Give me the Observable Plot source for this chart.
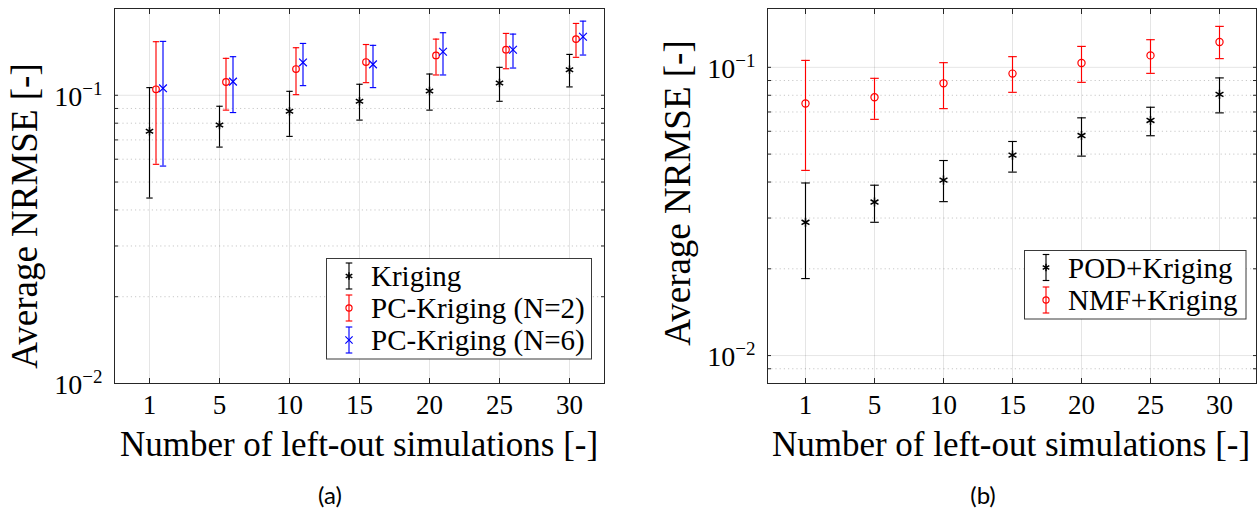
<!DOCTYPE html>
<html>
<head>
<meta charset="utf-8">
<script src="https://cdn.jsdelivr.net/npm/d3@7"></script>
<script src="https://cdn.jsdelivr.net/npm/@observablehq/plot@0.6"></script>
<style>
  html, body { margin: 0; padding: 0; background: #fff; }
  #root { position: relative; width: 1258px; height: 521px; background: #fff; overflow: hidden; }
  .panel { position: absolute; top: 0; }
  #overlay { position: absolute; left: 0; top: 0; pointer-events: none; }
</style>
</head>
<body>
<div id="root">
  <div id="pa" class="panel" style="left:0"></div>
  <div id="pb" class="panel" style="left:640px"></div>
  <svg id="overlay" width="1258" height="521"></svg>
</div>
<script>
// ---------- data ----------
const categories = ["1", "5", "10", "15", "20", "25", "30"];

// panel (a)
const krigingMean = [0.0750, 0.0789, 0.0880, 0.0953, 0.1035, 0.1103, 0.1227];
const krigingLow  = [0.0440, 0.0661, 0.0720, 0.0820, 0.0888, 0.0953, 0.1069];
const krigingHigh = [0.1063, 0.0916, 0.1032, 0.1092, 0.1185, 0.1250, 0.1386];

const pcN2Mean = [0.1049, 0.1112, 0.1233, 0.1304, 0.1375, 0.1439, 0.1566];
const pcN2Low  = [0.0576, 0.0888, 0.1005, 0.1106, 0.1176, 0.1236, 0.1354];
const pcN2High = [0.1534, 0.1343, 0.1462, 0.1500, 0.1566, 0.1639, 0.1775];

const pcN6Mean = [0.1057, 0.1115, 0.1300, 0.1280, 0.1416, 0.1439, 0.1596];
const pcN6Low  = [0.0568, 0.0871, 0.1080, 0.1063, 0.1176, 0.1243, 0.1379];
const pcN6High = [0.1538, 0.1361, 0.1513, 0.1490, 0.1648, 0.1630, 0.1808];

// panel (b)
const podMean = [0.0290, 0.0341, 0.0406, 0.0496, 0.0580, 0.0654, 0.0806];
const podLow  = [0.0185, 0.0290, 0.0342, 0.0433, 0.0492, 0.0579, 0.0695];
const podHigh = [0.0397, 0.0390, 0.0475, 0.0553, 0.0668, 0.0727, 0.0919];

const nmfMean = [0.0749, 0.0787, 0.0880, 0.0951, 0.1035, 0.1100, 0.1225];
const nmfLow  = [0.0439, 0.0660, 0.0719, 0.0819, 0.0887, 0.0953, 0.1072];
const nmfHigh = [0.1057, 0.0916, 0.1038, 0.1089, 0.1182, 0.1247, 0.1387];

const legendA = ["Kriging", "PC-Kriging (N=2)", "PC-Kriging (N=6)"];
const legendB = ["POD+Kriging", "NMF+Kriging"];
const xLabel = "Number of left-out simulations [-]";
const yLabel = "Average NRMSE [-]";
const yDomainA = [0.01, 0.2];
const yDomainB = [0.008, 0.16];
const majorTicks = [0.01, 0.1];
const minorTicksA = [0.02, 0.03, 0.04, 0.05, 0.06, 0.07, 0.08, 0.09];
const minorTicksB = [0.008, 0.009, 0.02, 0.03, 0.04, 0.05, 0.06, 0.07, 0.08, 0.09];

// ---------- helpers ----------
const serif = "'Liberation Serif', 'Times New Roman', serif";
const BLACK = "#000000", RED = "#ff0000", BLUE = "#0000ff";

const capSymbol = {
  draw(ctx, size) {
    const r = Math.sqrt(size / Math.PI);
    ctx.moveTo(-r, 0); ctx.lineTo(r, 0);
  }
};

function rows(mean, low, high) {
  return categories.map((c, i) => ({cat: c, v: mean[i], lo: low[i], hi: high[i]}));
}

function errorMarks(data, color, symbol, r, dx, capR, msw = 1.2) {
  const sw = 1.15;
  return [
    Plot.ruleX(data, {x: "cat", y1: "lo", y2: "hi", stroke: color, strokeWidth: sw, dx}),
    Plot.dot(data, {x: "cat", y: "lo", symbol: capSymbol, r: capR, stroke: color, fill: "none", strokeWidth: sw, dx}),
    Plot.dot(data, {x: "cat", y: "hi", symbol: capSymbol, r: capR, stroke: color, fill: "none", strokeWidth: sw, dx}),
    Plot.dot(data, {x: "cat", y: "v", symbol, r, stroke: color, fill: "none", strokeWidth: msw, dx})
  ];
}

function expFormat(d) {
  const e = Math.round(Math.log10(d));
  return "10^" + String(e).replace("-", "\u2212");
}

function makePanel({marginLeft, marginRight, width, yDomain, minor, series}) {
  const allTicks = [...majorTicks, ...minor];
  const svg = Plot.plot({
    width,
    height: 423,
    marginLeft,
    marginRight,
    marginTop: 8,
    marginBottom: 40,
    style: {fontFamily: serif, fontSize: "27px", color: "#000", background: "transparent"},
    x: {type: "point", domain: categories, padding: 0.5, label: null},
    y: {type: "log", domain: yDomain, label: null},
    marks: [
      Plot.gridX({stroke: "#000", strokeOpacity: 0.1, strokeWidth: 1}),
      Plot.gridY(minor, {stroke: "#000", strokeOpacity: 0.22, strokeDasharray: "1.2,3", strokeWidth: 1}),
      Plot.gridY(majorTicks, {stroke: "#000", strokeOpacity: 0.1, strokeWidth: 1}),
      Plot.axisX({anchor: "bottom", tickSize: 0, tickPadding: 11, fontSize: 27, label: null}),
      Plot.axisX({anchor: "bottom", tickSize: -5, tickFormat: () => "", label: null, stroke: "#262626"}),
      Plot.axisX({anchor: "top", tickSize: -5, tickFormat: () => "", label: null, stroke: "#262626"}),
      Plot.axisY(majorTicks, {anchor: "left", tickSize: 0, tickPadding: 12, fontSize: 27, tickFormat: expFormat, label: null}),
      Plot.axisY(allTicks, {anchor: "left", tickSize: -4, tickFormat: () => "", label: null, stroke: "#262626"}),
      Plot.axisY(allTicks, {anchor: "right", tickSize: -4, tickFormat: () => "", label: null, stroke: "#262626"}),
      ...series,
      Plot.frame({stroke: "#262626", strokeWidth: 1})
    ]
  });
  // superscript exponents on the y tick labels
  d3.select(svg).selectAll("text").each(function() {
    const t = this.textContent;
    if (t && t.startsWith("10^")) {
      const sel = d3.select(this);
      const exp = t.slice(3);
      sel.text("")
        .style("font-size", "28px")
        .style("font-family", serif)
        .attr("dy", "0.05em");
      sel.append("tspan").text("10");
      sel.append("tspan").attr("dy", "-0.55em").style("font-size", "19px").text(exp);
    }
  });
  return svg;
}

// ---------- panel (a) ----------
const svgA = makePanel({
  marginLeft: 114, marginRight: 10, width: 614, yDomain: yDomainA, minor: minorTicksA,
  series: [
    ...errorMarks(rows(krigingMean, krigingLow, krigingHigh), BLACK, "asterisk", 4.0, 0, 3.2, 1.5),
    ...errorMarks(rows(pcN2Mean, pcN2Low, pcN2High), RED, "circle", 3.3, 6.5, 3.2),
    ...errorMarks(rows(pcN6Mean, pcN6Low, pcN6High), BLUE, "times", 3.6, 13.5, 3.2)
  ]
});
document.getElementById("pa").appendChild(svgA);

// ---------- panel (b) ----------
const svgB = makePanel({
  marginLeft: 127, marginRight: 2, width: 618, yDomain: yDomainB, minor: minorTicksB,
  series: [
    ...errorMarks(rows(podMean, podLow, podHigh), BLACK, "asterisk", 4.3, 0, 4.3, 1.5),
    ...errorMarks(rows(nmfMean, nmfLow, nmfHigh), RED, "circle", 3.6, 0, 4.3)
  ]
});
document.getElementById("pb").appendChild(svgB);

// ---------- overlay: titles, legends, captions ----------
const ov = d3.select("#overlay");

function label(x, y, text, size, opts = {}) {
  const t = ov.append("text")
    .attr("x", x).attr("y", y)
    .attr("text-anchor", opts.anchor || "middle")
    .attr("font-family", opts.family || serif)
    .attr("font-size", size)
    .attr("fill", "#000")
    .text(text);
  if (opts.rotate) t.attr("transform", `rotate(-90 ${x} ${y})`);
  if (opts.baseline) t.attr("dominant-baseline", opts.baseline);
  return t;
}

// axis titles
label(359, 456, xLabel, 35);
label(1011, 456, xLabel, 35);
label(37, 216, yLabel, 37, {rotate: true});
label(690, 193, yLabel, 37, {rotate: true});

// captions
label(330, 504, "(a)", 24, {family: "Lato, 'Open Sans', sans-serif"});
label(983, 504, "(b)", 24, {family: "Lato, 'Open Sans', sans-serif"});

function glyph(x, cy, color, symbolType, symSize, msw) {
  const g = ov.append("g").attr("stroke", color).attr("fill", "none").attr("stroke-width", 1.15);
  g.append("line").attr("x1", x).attr("x2", x).attr("y1", cy - 13).attr("y2", cy + 13);
  g.append("line").attr("x1", x - 3.3).attr("x2", x + 3.3).attr("y1", cy - 13).attr("y2", cy - 13);
  g.append("line").attr("x1", x - 3.3).attr("x2", x + 3.3).attr("y1", cy + 13).attr("y2", cy + 13);
  g.append("path").attr("transform", `translate(${x},${cy})`).attr("stroke-width", msw)
    .attr("d", d3.symbol(symbolType, symSize)());
}

function legend(box, entries) {
  ov.append("rect").attr("x", box.x).attr("y", box.y).attr("width", box.w).attr("height", box.h)
    .attr("fill", "#fff").attr("stroke", "#3a3a3a").attr("stroke-width", 1);
  entries.forEach(e => {
    glyph(box.mx, e.cy, e.color, e.sym, e.size, e.msw);
    label(box.tx, e.cy, e.text, 29, {anchor: "start", baseline: "central"});
  });
}

legend({x: 326.5, y: 258.5, w: 265, h: 100.5, mx: 349, tx: 371}, [
  {cy: 276, color: BLACK, sym: d3.symbolAsterisk, size: 40, msw: 1.5, text: legendA[0]},
  {cy: 308, color: RED, sym: d3.symbolCircle, size: 30, msw: 1.15, text: legendA[1]},
  {cy: 340, color: BLUE, sym: d3.symbolTimes, size: 36, msw: 1.15, text: legendA[2]}
]);
legend({x: 1024.5, y: 250.5, w: 221.5, h: 68.5, mx: 1046, tx: 1068}, [
  {cy: 267.5, color: BLACK, sym: d3.symbolAsterisk, size: 40, msw: 1.5, text: legendB[0]},
  {cy: 300, color: RED, sym: d3.symbolCircle, size: 30, msw: 1.15, text: legendB[1]}
]);
</script>
</body>
</html>
